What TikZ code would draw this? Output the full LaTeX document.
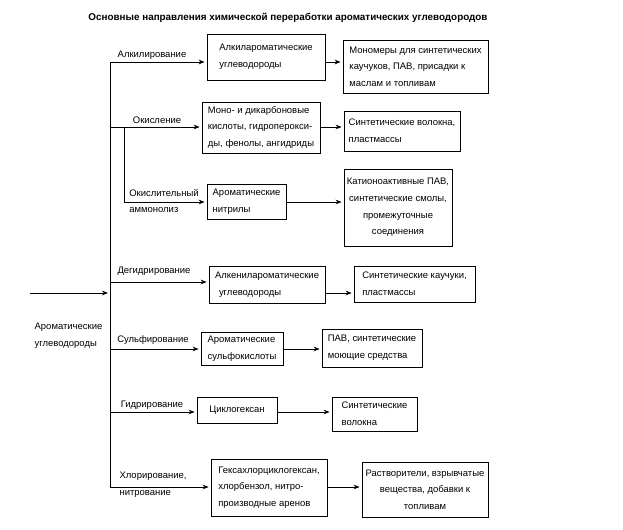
\documentclass[tikz,border=0pt]{standalone}
\usepackage{fontspec}
\setmainfont{Liberation Sans}
\usepackage{tikz}
\usetikzlibrary{shapes,arrows,arrows.meta,positioning,calc}

\begin{document}
\begin{tikzpicture}[x=0.75pt,y=-0.75pt]
    % Stili
    \tikzset{
        box/.style={rectangle, draw, line width=0.6pt, inner sep=2pt, align=left, font=\fontsize{7.1}{12.5}\selectfont},
        cbox/.style={box, align=center},
        lbl/.style={inner sep=0pt, align=left, font=\fontsize{7.1}{12.5}\selectfont},
        arrow/.style={-{Stealth[length=4.5pt,width=3.5pt]}, line width=0.6pt, shorten >=1.5pt},
        line/.style={line width=0.6pt}
    }
    \useasboundingbox (0,0) rectangle (623,529);

    % Titolo
    \node[lbl, font=\fontsize{7.4}{9}\selectfont\bfseries] (title) at (288,18) {Основные направления химической переработки ароматических углеводородов};

    % Tronco principale
    \coordinate (tA) at (110,62);
    \coordinate (tB) at (110,127);
    \coordinate (sB) at (124,127);
    \coordinate (tC) at (124,202);
    \coordinate (tD) at (110,282);
    \coordinate (jn) at (110,293);
    \coordinate (in) at (30,293);
    \coordinate (tE) at (110,349);
    \coordinate (tG) at (110,412);
    \coordinate (tH) at (110,487);
    \draw[line] (tA) -- (tH);
    \draw[arrow] (in) -- (jn);
    \node[lbl] (arom) at (68.5,336) {Ароматические\\углеводороды};

    % Prodotti primari
    \node[box, minimum width=88.5pt, minimum height=34.5pt] (A1) at (266,57) {Алкилароматические\\углеводороды};
    \node[box, minimum width=88.5pt, minimum height=38.25pt] (B1) at (261,127.5) {Моно- и дикарбоновые\\кислоты, гидроперокси-\\ды, фенолы, ангидриды};
    \node[box, minimum width=59.25pt, minimum height=26.25pt] (C1) at (246.5,201.5) {Ароматические\\нитрилы};
    \node[box, minimum width=87pt, minimum height=27.75pt] (D1) at (267,284.5) {Алкенилароматические\\\hspace*{3pt}углеводороды};
    \node[box, minimum width=61.5pt, minimum height=24.75pt] (E1) at (242,348.5) {Ароматические\\сульфокислоты};
    \node[box, minimum width=60pt, minimum height=19.5pt] (G1) at (237,410) {Циклогексан};
    \node[box, minimum width=87pt, minimum height=42.75pt] (H1) at (269,487.5) {Гексахлорциклогексан,\\хлорбензол, нитро-\\производные аренов};

    % Prodotti finali
    \node[box, minimum width=108.75pt, minimum height=39.75pt] (A2) at (415.5,66.5) {Мономеры для синтетических\\каучуков, ПАВ, присадки к\\маслам и топливам};
    \node[box, minimum width=87pt, minimum height=30pt] (B2) at (402,131) {Синтетические волокна,\\пластмассы};
    \node[cbox, minimum width=81pt, minimum height=57.75pt] (C2) at (398,207.5) {Катионоактивные ПАВ,\\синтетические смолы,\\промежуточные\\соединения};
    \node[box, minimum width=90.75pt, minimum height=27pt] (D2) at (414.5,284) {Синтетические каучуки,\\пластмассы};
    \node[box, minimum width=75pt, minimum height=28.5pt] (F2) at (372,348) {ПАВ, синтетические\\моющие средства};
    \node[box, minimum width=63.75pt, minimum height=25.5pt] (G2) at (374.5,414) {Синтетические\\волокна};
    \node[cbox, minimum width=94.5pt, minimum height=41.25pt] (H2) at (425,489.5) {Растворители, взрывчатые\\вещества, добавки к\\топливам};

    % Rami
    \draw[arrow] (tA) -- (tA -| A1.west);
    \draw[arrow] (tB) -- (tB -| B1.west);
    \draw[line] (sB) -- (tC);
    \draw[arrow] (tC) -- (tC -| C1.west);
    \draw[arrow] (tD) -- (tD -| D1.west);
    \draw[arrow] (tE) -- (tE -| E1.west);
    \draw[arrow] (tG) -- (tG -| G1.west);
    \draw[arrow] (tH) -- (tH -| H1.west);

    % Etichette dei rami
    \node[lbl] (alk) at (152,55) {Алкилирование};
    \node[lbl] (oks) at (157,120) {Окисление};
    \node[lbl] (amm) at (164,201) {Окислительный\\аммонолиз};
    \node[lbl] (deg) at (154,271) {Дегидрирование};
    \node[lbl] (sul) at (153,340) {Сульфирование};
    \node[lbl] (gid) at (152,405) {Гидрирование};
    \node[lbl] (hlo) at (153,485) {Хлорирование,\\нитрование};

    % Frecce tra prodotti
    \draw[arrow] (A1.east |- tA) -- (A2.west |- tA);
    \draw[arrow] (B1.east |- tB) -- (B2.west |- tB);
    \draw[arrow] (C1.east |- tC) -- (C2.west |- tC);
    \draw[arrow] (D1.east |- jn) -- (D2.west |- jn);
    \draw[arrow] (E1.east |- tE) -- (F2.west |- tE);
    \draw[arrow] (G1.east |- tG) -- (G2.west |- tG);
    \draw[arrow] (H1.east |- tH) -- (H2.west |- tH);
\end{tikzpicture}
\end{document}
